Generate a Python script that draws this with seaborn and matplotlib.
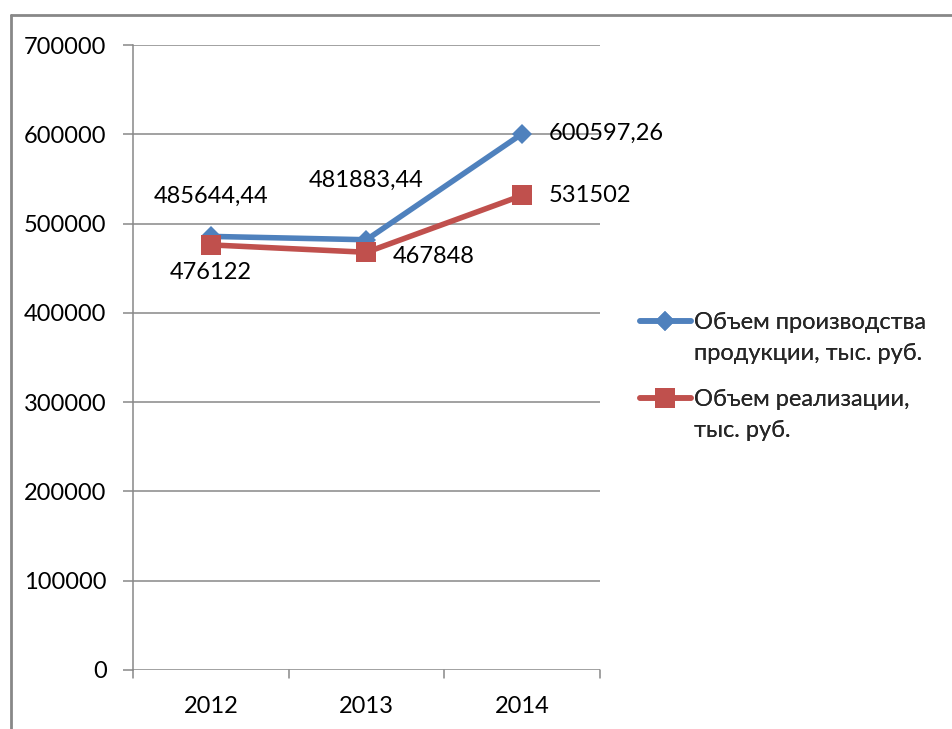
import matplotlib
matplotlib.use("Agg")
import matplotlib.pyplot as plt
import seaborn as sns
import pandas as pd
from matplotlib.lines import Line2D

years = ["2012", "2013", "2014"]
production = [485644.44, 481883.44, 600597.26]
sales = [476122, 467848, 531502]
production_labels = ["485644,44", "481883,44", "600597,26"]
sales_labels = ["476122", "467848", "531502"]
series_names = ["Объем производства продукции, тыс. руб.", "Объем реализации, тыс. руб."]
legend_lines = [["Объем производства", "продукции, тыс. руб."], ["Объем реализации,", "тыс. руб."]]
y_ticks = [0, 100000, 200000, 300000, 400000, 500000, 600000, 700000]

sns.set_theme(style="white")
plt.rcParams["font.family"] = ["Lato", "DejaVu Sans"]

W, H = 953, 729
fig = plt.figure(figsize=(W / 100, H / 100), dpi=100)
ax = fig.add_axes([133 / W, 1 - 670 / H, (600 - 133) / W, (670 - 45) / H])

df = pd.DataFrame({
    "year": years * 2,
    "value": production + sales,
    "series": [series_names[0]] * 3 + [series_names[1]] * 3,
})

blue = "#4F81BD"
red = "#C0504D"
grid_c = "#888888"
fs = 17

for y in y_ticks:
    ax.axhline(y, color=grid_c, lw=1.1, zorder=0)

sns.lineplot(data=df[df.series == series_names[0]], x="year", y="value", ax=ax,
             color=blue, lw=4, marker="D", markersize=10, markeredgewidth=0,
             legend=False, zorder=3, sort=False)
sns.lineplot(data=df[df.series == series_names[1]], x="year", y="value", ax=ax,
             color=red, lw=4, marker="s", markersize=14, markeredgewidth=0,
             legend=False, zorder=4, sort=False)

ax.set_xlim(-0.5, 2.5)
ax.set_ylim(0, 700000)
ax.set_yticks(y_ticks)
ax.set_yticklabels([str(v) for v in y_ticks], fontsize=fs, color="black")
ax.set_xticks(range(3))
ax.set_xticklabels(years, fontsize=fs, color="black")
ax.set_xlabel("")
ax.set_ylabel("")

# Category boundary ticks below the axis
for xb in [-0.5, 0.5, 1.5, 2.5]:
    ax.plot([xb, xb], [0, -9000], color=grid_c, lw=1.1, clip_on=False, zorder=1)
for s in ["top", "right", "bottom"]:
    ax.spines[s].set_visible(False)
ax.spines["left"].set_color(grid_c)
ax.spines["left"].set_linewidth(1.1)
ax.tick_params(axis="y", which="both", left=True, length=7, width=1.1, color=grid_c, pad=12)
ax.tick_params(axis="x", which="both", bottom=False, pad=13)

# Value labels
off = dict(textcoords="offset points", fontsize=fs, color="black")
ax.annotate(production_labels[0], (0, production[0]), xytext=(0, 29), ha="center", va="center", **off)
ax.annotate(production_labels[1], (1, production[1]), xytext=(0, 43), ha="center", va="center", **off)
ax.annotate(production_labels[2], (2, production[2]), xytext=(19, 0), ha="left", va="center", **off)
ax.annotate(sales_labels[0], (0, sales[0]), xytext=(0, -20), ha="center", va="center", **off)
ax.annotate(sales_labels[1], (1, sales[1]), xytext=(19, -3), ha="left", va="center", **off)
ax.annotate(sales_labels[2], (2, sales[2]), xytext=(19, 0), ha="left", va="center", **off)

# Legend: one block per series, marker aligned with the first text line
blank = Line2D([], [], color="none")
styles = [
    dict(color=blue, lw=4, marker="D", markersize=10, markeredgewidth=0),
    dict(color=red, lw=4, marker="s", markersize=14, markeredgewidth=0),
]
tops = [312, 389]
for lines, st, top in zip(legend_lines, styles, tops):
    leg = fig.legend([Line2D([], [], **st), blank], lines, loc="upper left",
                     bbox_to_anchor=(640 / W, 1 - top / H), frameon=False, fontsize=fs,
                     handlelength=2.15, handletextpad=0.12, labelspacing=0.42,
                     borderaxespad=0, borderpad=0)
    fig.add_artist(leg)

# Outer chart border (top and left edges fall inside the image)
fig.add_artist(Line2D([11 / W, 1.0], [1 - 15 / H, 1 - 15 / H], transform=fig.transFigure,
                      color=grid_c, lw=2))
fig.add_artist(Line2D([11 / W, 11 / W], [0, 1 - 15 / H], transform=fig.transFigure,
                      color=grid_c, lw=2))

fig.savefig("out.png", dpi=100, facecolor="white")
